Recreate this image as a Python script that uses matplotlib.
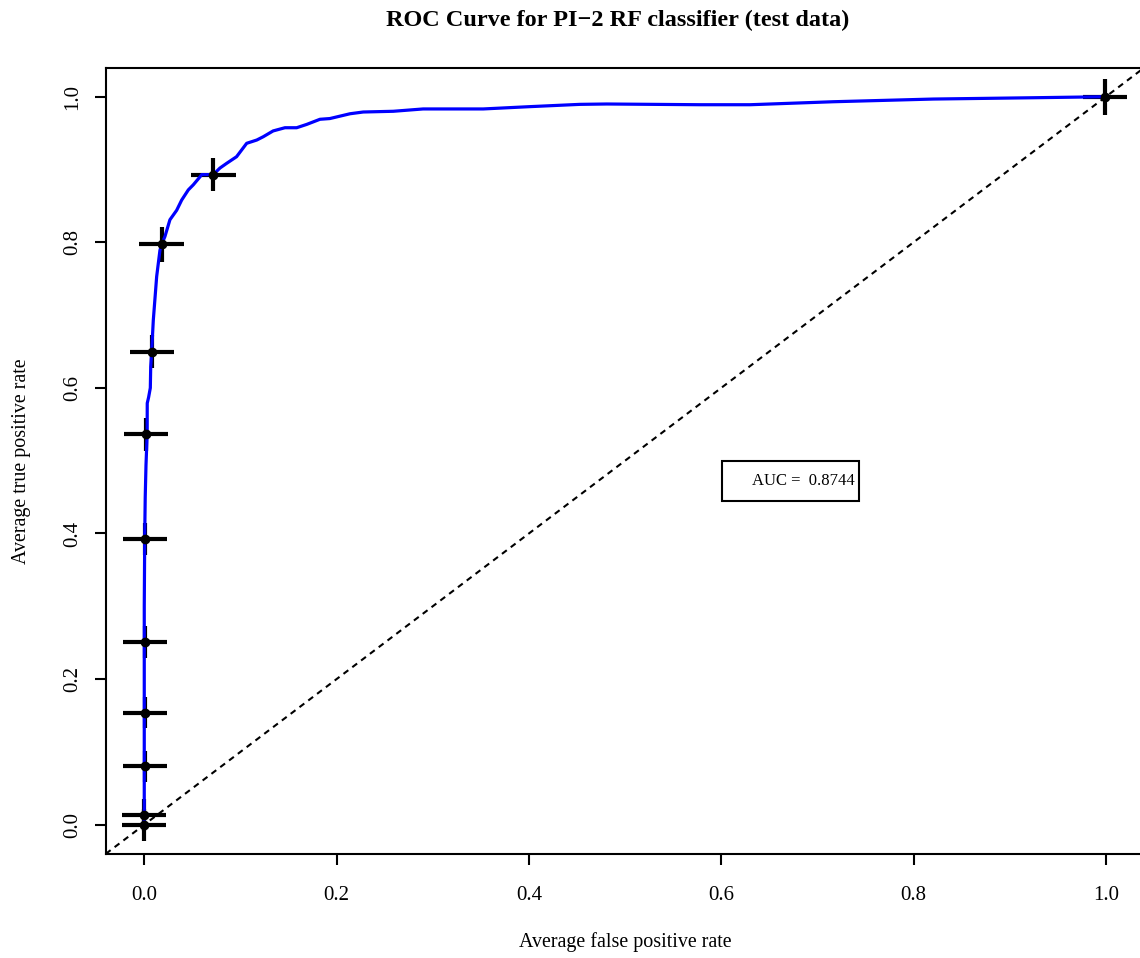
import matplotlib
matplotlib.use("Agg")
import matplotlib.pyplot as plt
from matplotlib.patches import Rectangle

# ---- data ----
fpr = [0.0, 0.0, 0.0005, 0.001, 0.0018, 0.003, 0.0031, 0.0045, 0.0063, 0.0067, 0.0077,
       0.0094, 0.0129, 0.0163, 0.018, 0.0215, 0.0267, 0.0337, 0.0389, 0.0458, 0.051,
       0.058, 0.0597, 0.0717, 0.0787, 0.0857, 0.096, 0.1065, 0.117, 0.1237, 0.134,
       0.1463, 0.1585, 0.169, 0.1827, 0.193, 0.214, 0.2277, 0.259, 0.290, 0.3525,
       0.40, 0.453, 0.481, 0.578, 0.63, 0.7164, 0.8205, 0.9244, 1.0]
tpr = [0.0, 0.30, 0.40, 0.45, 0.494, 0.536, 0.579, 0.587, 0.600, 0.629, 0.650,
       0.693, 0.753, 0.789, 0.797, 0.808, 0.831, 0.844, 0.858, 0.872, 0.879,
       0.890, 0.893, 0.893, 0.902, 0.9085, 0.9176, 0.936, 0.9405, 0.945, 0.953,
       0.9574, 0.9574, 0.962, 0.969, 0.970, 0.9766, 0.979, 0.980, 0.9832, 0.9832,
       0.9863, 0.9895, 0.990, 0.9890, 0.9890, 0.9931, 0.9968, 0.9986, 1.0]

ci_fpr = [0.0, 0.0, 0.0005, 0.0005, 0.001, 0.001, 0.002, 0.008, 0.018, 0.072, 0.999]
ci_tpr = [0.0, 0.013, 0.080, 0.154, 0.251, 0.393, 0.536, 0.650, 0.797, 0.893, 1.0]
ci_xerr = [0.023, 0.023, 0.023, 0.023, 0.023, 0.023, 0.023, 0.023, 0.023, 0.023, 0.023]
ci_yerr = [0.022, 0.022, 0.021, 0.021, 0.022, 0.022, 0.022, 0.022, 0.024, 0.023, 0.025]

auc_value = 0.8744
x_ticks = [0.0, 0.2, 0.4, 0.6, 0.8, 1.0]
y_ticks = [0.0, 0.2, 0.4, 0.6, 0.8, 1.0]

# ---- figure ----
W, H = 1140, 958
fig = plt.figure(figsize=(W / 100, H / 100), dpi=100)
plt.rcParams['font.family'] = ['Liberation Serif', 'DejaVu Serif']

left, right = 105.8 / W, 1144.3 / W
bottom, top = (H - 853.8) / H, (H - 67.6) / H
ax = fig.add_axes([left, bottom, right - left, top - bottom])

ax.set_xlim(-0.04, 1.04)
ax.set_ylim(-0.04, 1.04)

# diagonal
ax.axline((0, 0), slope=1, color='black', lw=1.5, linestyle=(0, (2.9, 2.4)), zorder=1)

# error bars
ax.errorbar(ci_fpr, ci_tpr, xerr=ci_xerr, yerr=ci_yerr, fmt='none',
            ecolor='black', elinewidth=3.0, capsize=0, zorder=2)

# curve
ax.plot(fpr, tpr, color='#0000FF', lw=2.3, zorder=3, solid_joinstyle='round')

# centers
ax.plot(ci_fpr, ci_tpr, 'o', color='black', markersize=6, zorder=4)

# AUC box
ax.add_patch(Rectangle((0.601, 0.445), 0.142, 0.055, fill=False, edgecolor='black', lw=1.5, zorder=5))
ax.text(0.7385, 0.472, f"AUC =  {auc_value}", ha='right', va='center', fontsize=12, zorder=6)

ax.set_xticks(x_ticks)
ax.set_yticks(y_ticks)
ax.set_xticklabels([f"{v:.1f}" for v in x_ticks])
ax.set_yticklabels([f"{v:.1f}" for v in y_ticks], rotation=90, va='center')
ax.tick_params(axis='both', direction='out', length=8, width=1.5, labelsize=15)
ax.tick_params(axis='x', pad=15)
ax.tick_params(axis='y', pad=9)
for s in ax.spines.values():
    s.set_linewidth(1.5)

fig.text((left + right) / 2 - 7 / W, 1 - 20 / H, "ROC Curve for PI\u22122 RF classifier (test data)",
         ha='center', va='center', fontsize=17.5, fontweight='bold')
fig.text((left + right) / 2, 1 - 942 / H, "Average false positive rate", ha='center', va='center', fontsize=14.4)
fig.text(22 / W, 1 - 460.7 / H, "Average true positive rate", ha='center', va='center', rotation=90, fontsize=14.4)

fig.savefig("out.png", dpi=100)
